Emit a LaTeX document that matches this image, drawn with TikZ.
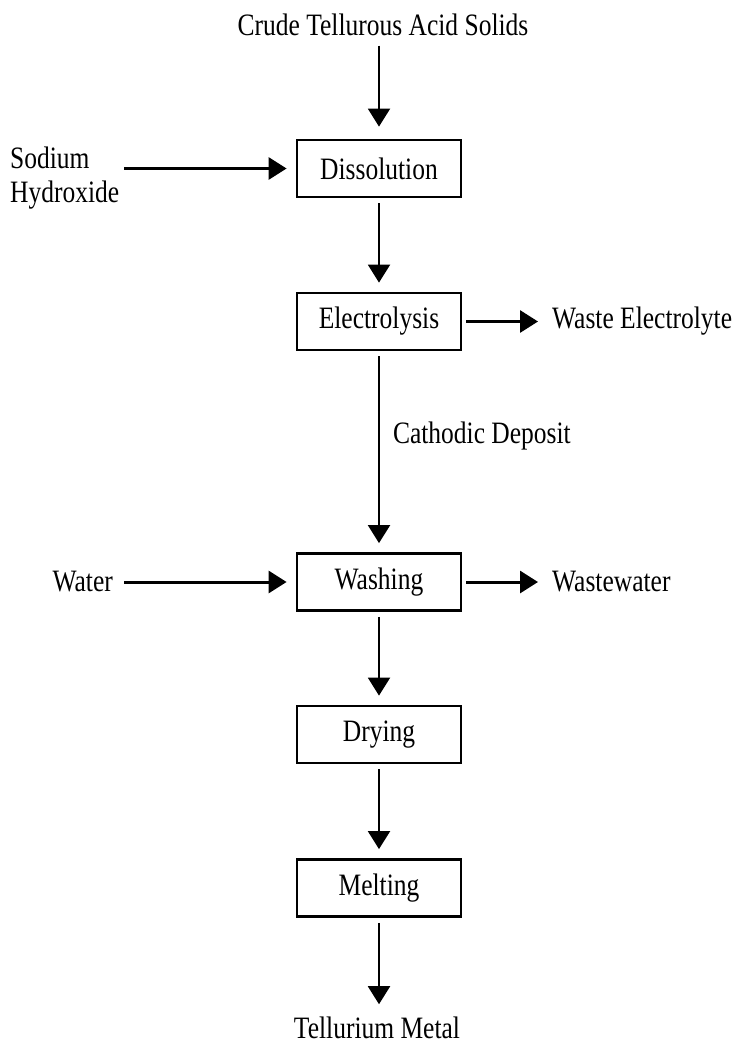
\documentclass[tikz,border=0pt]{standalone}
\usepackage{fontspec}
\setmainfont{Liberation Serif}
\usetikzlibrary{arrows.meta,positioning}
\newcommand{\tallword}[1]{\scalebox{1}[1.22]{#1}}

\begin{document}
\begin{tikzpicture}[x=1pt, y=-1pt,
    font=\fontsize{25.5}{34}\selectfont,
    stage/.style={draw, line width=2.8pt, minimum width=164pt, minimum height=57pt, inner sep=0pt},
    tag/.style={inner sep=0pt},
    flow/.style={line width=2pt, -{Triangle[length=18pt,width=22pt]}, shorten <=5pt, shorten >=9pt},
    sideflow/.style={flow, line width=3pt}]
  \useasboundingbox (0,0) rectangle (732,1047);
  % process stages
  \node[stage] (dis) at (379,168.5) {\tallword{Dissolution}};
  \node[stage] (ele) at (379,321.5) {\tallword{Electrolysis}};
  \node[stage] (wash) at (379,582) {\tallword{Washing}};
  \node[stage] (dry) at (379,734.5) {\tallword{Drying}};
  \node[stage] (melt) at (379,888) {\tallword{Melting}};
  % inputs and outputs
  \node[tag, anchor=base] (crude) at (383,35) {\tallword{Crude Tellurous Acid Solids}};
  \node[tag, anchor=west, align=left] (naoh) at (10,178) {\tallword{Sodium}\\\tallword{Hydroxide}};
  \node[tag, anchor=west] (wasteel) at (552,321.5) {\tallword{Waste Electrolyte}};
  \node[tag, anchor=east] (water) at (113,582) {\tallword{Water}};
  \node[tag, anchor=west] (wastew) at (552,582) {\tallword{Wastewater}};
  \node[tag, anchor=base] (metal) at (377,1038) {\tallword{Tellurium Metal}};
  % main line
  \draw[flow, shorten <=10pt, shorten >=12pt] (crude.south -| dis) -- (dis);
  \draw[flow] (dis) -- (ele);
  \draw[flow] (ele) -- node[tag, right, pos=0.42, xshift=13pt] (cathodic) {\tallword{Cathodic Deposit}} (wash);
  \draw[flow] (wash) -- (dry);
  \draw[flow] (dry) -- (melt);
  \draw[flow, shorten >=12pt] (melt) -- (metal.north -| melt);
  % side streams
  \draw[sideflow] (naoh.east |- dis) -- (dis);
  \draw[sideflow, shorten <=11pt] (water) -- (wash);
  \draw[sideflow, shorten <=4pt, shorten >=14pt] (ele) -- (wasteel);
  \draw[sideflow, shorten <=4pt, shorten >=14pt] (wash) -- (wastew);
\end{tikzpicture}
\end{document}
